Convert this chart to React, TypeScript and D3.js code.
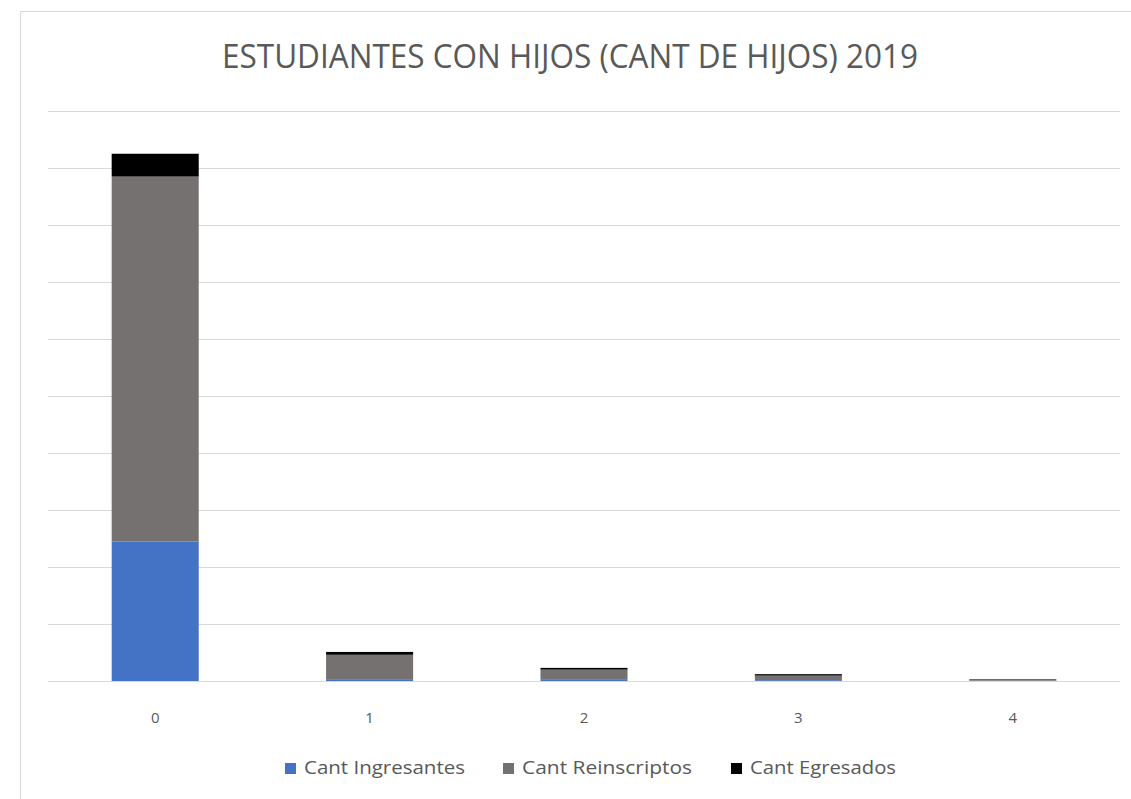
import React from "react";
import * as d3 from "d3";

const categories = ["0", "1", "2", "3", "4"];
const ingresantes = [245, 2, 2, 1.5, 0.5];
const reinscriptos = [640, 44, 18, 8, 2.5];
const egresados = [40, 5, 3, 2.5, 0.5];
const seriesNames = ["Cant Ingresantes", "Cant Reinscriptos", "Cant Egresados"];
const seriesColors = ["#4472C4", "#767171", "#000000"];
const yTicks = [0, 100, 200, 300, 400, 500, 600, 700, 800, 900, 1000];

export default function App() {
  const W = 1131, H = 799;
  const x = d3.scaleBand<string>().domain(categories).range([48, 1120]).paddingInner(0.594).paddingOuter(0.297);
  const y = d3.scaleLinear().domain([0, 1000]).range([681, 111]);
  const rows = categories.map((c, i) => ({ cat: c, a: ingresantes[i], b: reinscriptos[i], c: egresados[i] }));
  const stack = d3.stack<any>().keys(["a", "b", "c"])(rows);
  const font = "'Open Sans', 'Segoe UI', sans-serif";
  const legendX = [285, 503, 731];
  const legendTextLen = [161, 170, 146];
  return (
    <svg width={W} height={H} style={{ position: "absolute", left: 0, top: 0, background: "#fff" }} fontFamily={font}>
      <rect x={0} y={0} width={W} height={H} fill="#fff" />
      <rect x={20.5} y={11.5} width={1200} height={900} fill="#fff" stroke="#d9d9d9" />
      <text x={570} y={68} textAnchor="middle" fontSize={32} fill="#595959" textLength={696} lengthAdjust="spacingAndGlyphs">ESTUDIANTES CON HIJOS (CANT DE HIJOS) 2019</text>
      {yTicks.map((t) => (
        <line key={t} x1={48} x2={1120} y1={Math.round(y(t)) + 0.5} y2={Math.round(y(t)) + 0.5} stroke="#d9d9d9" strokeWidth={1} />
      ))}
      {stack.map((s, si) => (
        <g key={si} fill={seriesColors[si]}>
          {s.map((d, i) => (
            <rect key={i} x={x(categories[i])} width={x.bandwidth()} y={y(d[1])} height={Math.max(0, y(d[0]) - y(d[1]))} />
          ))}
        </g>
      ))}
      {categories.map((c) => (
        <text key={c} x={(x(c) as number) + x.bandwidth() / 2} y={723} textAnchor="middle" fontSize={15} fill="#595959">{c}</text>
      ))}
      {seriesNames.map((n, i) => (
        <g key={n}>
          <rect x={legendX[i]} y={763} width={11} height={11} fill={seriesColors[i]} />
          <text x={legendX[i] + 19} y={774} fontSize={19} fill="#595959" textLength={legendTextLen[i]} lengthAdjust="spacingAndGlyphs">{n}</text>
        </g>
      ))}
    </svg>
  );
}
